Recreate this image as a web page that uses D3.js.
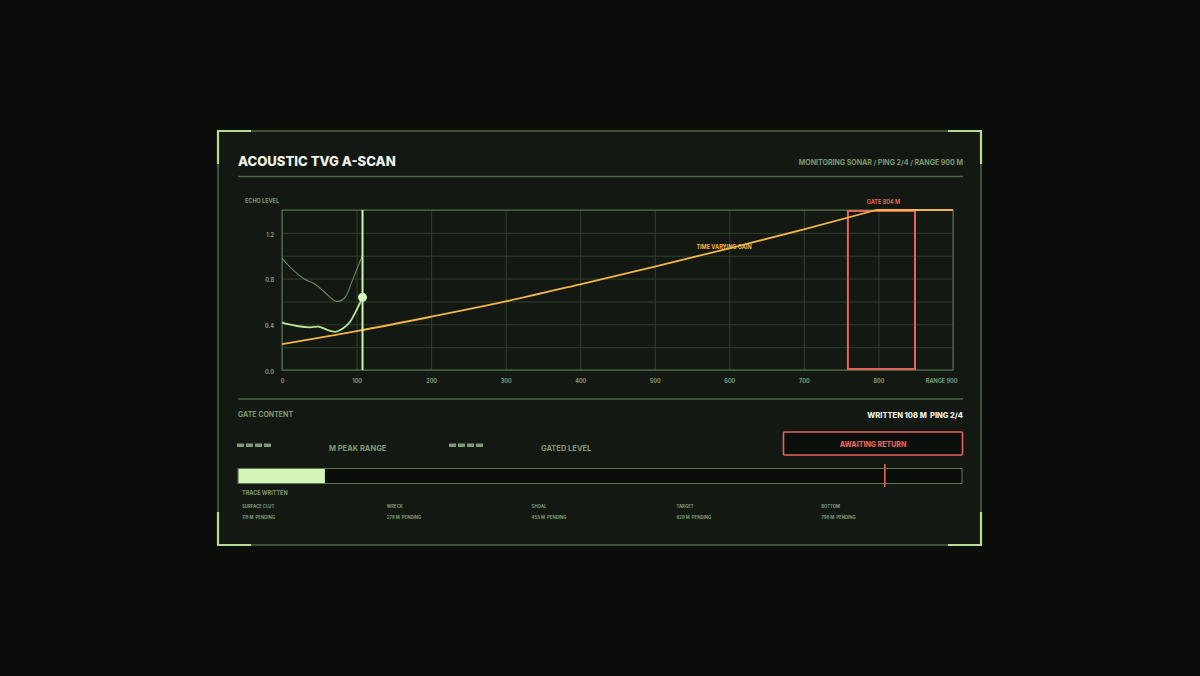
<!DOCTYPE html>
<html><head><meta charset="utf-8">
<script src="https://cdn.jsdelivr.net/npm/d3@7"></script>
<style>
html,body{margin:0;padding:0;background:#0b0d0a;}
svg{display:block;font-family:Inter,"DejaVu Sans",sans-serif;}
</style></head><body>
<svg id="c" width="1200" height="676"></svg>
<script>
// ---- data ----
const rangeTicks = [0,100,200,300,400,500,600,700,800,900];
const levelTicks = [0.0,0.4,0.8,1.2];
const tvgRange = [0,100,200,300,400,500,600,700,797,900];
const tvgGain  = [0.227,0.34,0.466,0.60,0.75,0.905,1.065,1.23,1.40,1.40];
const echoRange = [0,20,38,49,64,73,82,91,100,108];
const echoLevel = [0.414,0.385,0.373,0.379,0.344,0.335,0.365,0.42,0.525,0.636];
const prevRange = [0,14,29,46,64,73,84,93,100,107];
const prevLevel = [0.977,0.88,0.80,0.744,0.64,0.60,0.63,0.76,0.875,0.99];
const written = 108, maxRange = 900, gateCenter = 804, gateHalf = 45;
const targetNames = ["SURFACE CLUT","WRECK","SHOAL","TARGET","BOTTOM"];
const targetRanges = [118,278,455,628,798];

const C = {bg:"#0b0d0a",panel:"#141812",border:"#4d6647",accent:"#b4de8e",grid:"#2e412b",
  frame:"#5b7a51",muted:"#7d9a72",white:"#eef2e8",orange:"#f2b54a",red:"#e3645b",
  trace:"#b5e894",cursor:"#cdf3b0",prev:"#6b8760"};

const svg = d3.select("#c");
svg.append("rect").attr("width",1200).attr("height",676).attr("fill",C.bg);

// panel
const P = {x0:218,y0:131,x1:981,y1:545};
svg.append("rect").attr("x",P.x0).attr("y",P.y0).attr("width",P.x1-P.x0).attr("height",P.y1-P.y0)
  .attr("fill",C.panel).attr("stroke",C.border).attr("stroke-width",1.5);
const L = 33;
const corners = [
  [[P.x0,P.y0+L],[P.x0,P.y0],[P.x0+L,P.y0]],
  [[P.x1-L,P.y0],[P.x1,P.y0],[P.x1,P.y0+L]],
  [[P.x0,P.y1-L],[P.x0,P.y1],[P.x0+L,P.y1]],
  [[P.x1-L,P.y1],[P.x1,P.y1],[P.x1,P.y1-L]]];
corners.forEach(c=>svg.append("path").attr("d",d3.line()(c)).attr("fill","none")
  .attr("stroke",C.accent).attr("stroke-width",2.2));

// header
svg.append("text").attr("x",238).attr("y",166).attr("fill",C.white).attr("font-size",13.1)
  .attr("font-weight",800).text("ACOUSTIC TVG A-SCAN");
svg.append("text").attr("x",963).attr("y",164.5).attr("text-anchor","end").attr("fill",C.muted)
  .attr("font-size",7).attr("font-weight",700).text("MONITORING SONAR / PING 2/4 / RANGE 900 M");
svg.append("line").attr("x1",238).attr("x2",963).attr("y1",176.5).attr("y2",176.5)
  .attr("stroke",C.border).attr("stroke-width",1.5);

// chart
const x = d3.scaleLinear().domain([0,maxRange]).range([282,953]);
const y = d3.scaleLinear().domain([0,1.4]).range([370,210]);
const g = svg.append("g");

// grid
g.append("g").attr("transform","translate(0,370)")
  .call(d3.axisBottom(x).tickValues(rangeTicks).tickSize(-160).tickFormat(""))
  .call(a=>{a.select(".domain").remove();a.selectAll("line").attr("stroke",C.grid).attr("stroke-width",1);});
g.append("g").attr("transform","translate(282,0)")
  .call(d3.axisLeft(y).tickValues(d3.range(0,1.41,0.2)).tickSize(-671).tickFormat(""))
  .call(a=>{a.select(".domain").remove();a.selectAll("line").attr("stroke",C.grid).attr("stroke-width",1);});
g.append("rect").attr("x",282).attr("y",210).attr("width",671).attr("height",160)
  .attr("fill","none").attr("stroke",C.frame).attr("stroke-width",1);

// axis labels
g.append("g").attr("transform","translate(0,370)")
  .call(d3.axisBottom(x).tickValues(rangeTicks).tickSize(0).tickPadding(9)
    .tickFormat(d=>d===900?"RANGE 900":d))
  .call(a=>{a.select(".domain").remove();
    a.selectAll("text").attr("fill",C.muted).attr("font-size",5.5).attr("font-weight",700)
     .attr("font-family","Inter,'DejaVu Sans',sans-serif")
     .filter(d=>d===900).attr("text-anchor","end").attr("dx",4);});
g.append("g").attr("transform","translate(282,1.5)")
  .call(d3.axisLeft(y).tickValues(levelTicks).tickSize(0).tickPadding(8).tickFormat(d3.format(".1f")))
  .call(a=>{a.select(".domain").remove();
    a.selectAll("text").attr("fill",C.muted).attr("font-size",5.5).attr("font-weight",700)
     .attr("font-family","Inter,'DejaVu Sans',sans-serif");});
g.append("text").attr("x",245).attr("y",203).attr("fill",C.muted).attr("font-size",5.5)
  .attr("font-weight",700).text("ECHO LEVEL");

// gate
g.append("rect").attr("x",x(gateCenter-gateHalf)).attr("y",y(1.4)+1)
  .attr("width",x(gateCenter+gateHalf)-x(gateCenter-gateHalf)).attr("height",y(0)-y(1.4)-2)
  .attr("fill","none").attr("stroke",C.red).attr("stroke-width",2);
g.append("text").attr("x",x(gateCenter)+2).attr("y",203.5).attr("text-anchor","middle")
  .attr("fill",C.red).attr("font-size",5.5).attr("font-weight",700).text("GATE "+gateCenter+" M");

// curves
const line = (xs,ys,curve)=>d3.line().x((d,i)=>x(xs[i])).y((d,i)=>y(ys[i])).curve(curve)(xs);
g.append("path").attr("d",line(prevRange,prevLevel,d3.curveCatmullRom)).attr("fill","none")
  .attr("stroke",C.prev).attr("stroke-width",1.1);
g.append("path").attr("d",line(echoRange,echoLevel,d3.curveCatmullRom)).attr("fill","none")
  .attr("stroke",C.trace).attr("stroke-width",1.8);
// TVG: smooth ramp up to saturation, then clamped flat
const nRamp = tvgRange.length-1;
const rampPath = line(tvgRange.slice(0,nRamp),tvgGain.slice(0,nRamp),d3.curveMonotoneX);
const flatPath = d3.line().x(d=>x(d[0])).y(d=>y(d[1]))(
  [[tvgRange[nRamp-1],tvgGain[nRamp-1]],[tvgRange[nRamp],tvgGain[nRamp]]]);
g.append("path").attr("d",rampPath+flatPath.replace(/^M/,"L")).attr("fill","none")
  .attr("stroke",C.orange).attr("stroke-width",1.8).attr("stroke-linejoin","round");
g.append("text").attr("x",724).attr("y",248.5).attr("text-anchor","middle").attr("fill",C.orange)
  .attr("font-size",5.5).attr("font-weight",700).text("TIME VARYING GAIN");

// cursor
g.append("line").attr("x1",x(written)).attr("x2",x(written)).attr("y1",210).attr("y2",370)
  .attr("stroke",C.cursor).attr("stroke-width",2);
g.append("circle").attr("cx",x(written)).attr("cy",y(echoLevel[echoLevel.length-1])).attr("r",4.5)
  .attr("fill","#d6f5bc");

// lower section
svg.append("line").attr("x1",238).attr("x2",963).attr("y1",399).attr("y2",399)
  .attr("stroke",C.border).attr("stroke-width",1.5);
svg.append("text").attr("x",238).attr("y",417).attr("fill",C.muted).attr("font-size",7)
  .attr("font-weight",700).text("GATE CONTENT");
svg.append("text").attr("x",963).attr("y",417.5).attr("text-anchor","end").attr("fill",C.white)
  .attr("font-size",7.5).attr("font-weight",800).attr("xml:space","preserve")
  .text("WRITTEN "+written+" M  PING 2/4");

[237,449].forEach(x0=>{
  for(let i=0;i<4;i++) svg.append("rect").attr("x",x0+i*9).attr("y",443.5).attr("width",7)
    .attr("height",3.5).attr("fill",C.muted);
});
svg.append("text").attr("x",329).attr("y",451).attr("fill",C.muted).attr("font-size",7.5)
  .attr("font-weight",700).text("M PEAK RANGE");
svg.append("text").attr("x",541).attr("y",451).attr("fill",C.muted).attr("font-size",7.5)
  .attr("font-weight",700).text("GATED LEVEL");

svg.append("rect").attr("x",783.5).attr("y",432).attr("width",179).attr("height",23).attr("rx",1)
  .attr("fill","#0d0f0c").attr("stroke",C.red).attr("stroke-width",1.6);
svg.append("text").attr("x",873).attr("y",446.5).attr("text-anchor","middle").attr("fill",C.red)
  .attr("font-size",7).attr("font-weight",800).text("AWAITING RETURN");

// progress bar
const px = d3.scaleLinear().domain([0,maxRange]).range([238,962]);
svg.append("rect").attr("x",238).attr("y",468.5).attr("width",724).attr("height",15)
  .attr("fill","#0b0d0a").attr("stroke",C.frame).attr("stroke-width",1);
svg.append("rect").attr("x",238.5).attr("y",469).attr("width",px(written)-238.5).attr("height",14)
  .attr("fill","#d3f5b8");
svg.append("line").attr("x1",px(gateCenter)).attr("x2",px(gateCenter)).attr("y1",464).attr("y2",487)
  .attr("stroke",C.red).attr("stroke-width",1.6);

svg.append("text").attr("x",242).attr("y",495).attr("fill",C.muted).attr("font-size",5.5)
  .attr("font-weight",700).text("TRACE WRITTEN");
targetNames.forEach((n,i)=>{
  const tx = 242 + i*144.8;
  svg.append("text").attr("x",tx).attr("y",507.5).attr("fill",C.muted).attr("font-size",4.3)
    .attr("font-weight",700).text(n);
  svg.append("text").attr("x",tx).attr("y",518.5).attr("fill",C.muted).attr("font-size",4.3)
    .attr("font-weight",700).attr("xml:space","preserve").text(targetRanges[i]+" M  PENDING");
});
</script>
</body></html>
